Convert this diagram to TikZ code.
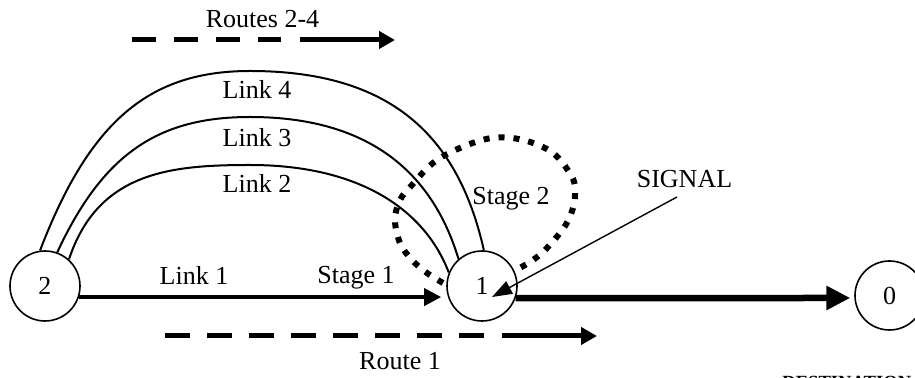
\documentclass[tikz,border=0pt]{standalone}
\usepackage{fontspec}
\setmainfont{Liberation Serif}
\usetikzlibrary{arrows.meta}
\begin{document}
\begin{tikzpicture}[x=0.5pt,y=-0.5pt,
  lbl/.style={font=\fontsize{13}{15}\selectfont, inner sep=0pt, anchor=base},
  nodecirc/.style={circle, draw, line width=0.8pt, inner sep=0pt, minimum size=35pt, font=\fontsize{13}{15}\selectfont},
  linkline/.style={line width=1pt},
  boldarrow/.style={line width=2pt, -{Triangle[length=8.5pt,width=8.5pt]}},
  heavyarrow/.style={line width=3.25pt, -{Triangle[length=12pt,width=11.5pt]}},
  routedash/.style={line width=2.5pt, dash pattern=on 12.5pt off 8.5pt},
  routedashb/.style={line width=2.5pt, dash pattern=on 11.75pt off 9.25pt},
  routehead/.style={line width=2.5pt, -{Triangle[length=8pt,width=8.5pt]}},
  stageloop/.style={line width=3pt, dash pattern=on 3pt off 4.5pt},
  signalarrow/.style={line width=0.7pt, -{Triangle[length=10pt,width=7pt]}}
]
\useasboundingbox (0,0) rectangle (915,378);
\clip (0,0) rectangle (915,378);

% nodes
\node[nodecirc] (n2) at (45,286) {2};
\node[nodecirc] (n1) at (482,286) {1};
\node[nodecirc, minimum size=34.5pt] (n0) at (889.5,295.5) {0};

% links 2-4
\draw[linkline] (n2.98) .. controls (90,120) and (150,71) .. (250,71)
  .. controls (390,71) and (458,135) .. (n1.87);
\draw[linkline] (n2.70) .. controls (103,154) and (158,117) .. (250,117)
  .. controls (375,117) and (434,178) .. (n1.131);
\draw[linkline] (n2.48) .. controls (98,172) and (170,165) .. (250,165)
  .. controls (360,165) and (425,210) .. (n1.158);

% link 1
\draw[boldarrow, shorten >=3.4pt] (n2.-18) -- (n1.198);
% to destination
\draw[heavyarrow, shorten >=2pt] (n1.-20) -- (n0.184);

% stage 2 loop
\draw[stageloop] plot[smooth, tension=0.6] coordinates {
  (443,283) (427,273) (412,260) (400,243) (395,220) (400,200) (412,185)
  (433,163) (460,148) (492,138) (523,140) (553,153) (572,177) (575,192)
  (573,208) (565,226) (547,248) (533,260) (518,269)};

% signal
\coordinate (sigstart) at (677,197);
\coordinate (sigend) at (492,297);
\draw[signalarrow] (sigstart) -- (sigend);

% routes 2-4
\coordinate (rtA) at (132,40);
\coordinate (rtB) at (281,40);
\coordinate (rtC) at (300,40);
\coordinate (rtD) at (395,40);
\draw[routedashb] (rtA) -- (rtB);
\draw[routehead] (rtC) -- (rtD);

% route 1
\coordinate (roA) at (165,336);
\coordinate (roB) at (484,336);
\coordinate (roC) at (502,336);
\coordinate (roD) at (597,336);
\draw[routedash] (roA) -- (roB);
\draw[routehead] (roC) -- (roD);

% labels
\node[lbl] (lr24) at (262.5,28) {Routes 2-4};
\node[lbl] (l4) at (257,98.5) {Link 4};
\node[lbl] (l3) at (257,147) {Link 3};
\node[lbl] (l2) at (257,193) {Link 2};
\node[lbl] (l1) at (194,285) {Link 1};
\node[lbl] (s1) at (356,284) {Stage 1};
\node[lbl] (s2) at (511,205) {Stage 2};
\node[lbl] (sig) at (684.5,188) {SIGNAL};
\node[lbl] (r1) at (400,370) {Route 1};
\node[lbl, anchor=base west, font=\fontsize{9.3}{11}\selectfont\bfseries] (dest) at (782,389) {DESTINATION};
\end{tikzpicture}
\end{document}
